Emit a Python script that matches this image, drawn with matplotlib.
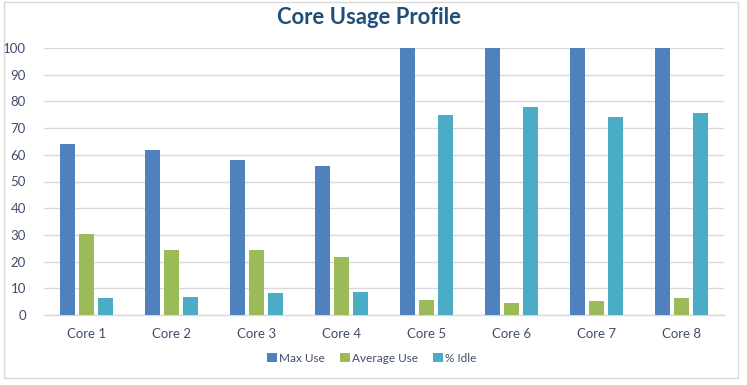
import matplotlib.pyplot as plt
import numpy as np
from matplotlib.patches import Rectangle

cores = ["Core 1", "Core 2", "Core 3", "Core 4", "Core 5", "Core 6", "Core 7", "Core 8"]
max_use = [64.1, 61.9, 58.1, 55.9, 100, 100, 100, 100]
avg_use = [30.4, 24.4, 24.4, 21.7, 5.6, 4.5, 5.25, 6.4]
idle = [6.4, 6.75, 8.25, 8.6, 75.0, 78.0, 74.25, 75.75]

series = [
    ("Max Use", max_use, "#4F81BD"),
    ("Average Use", avg_use, "#9BBB59"),
    ("% Idle", idle, "#4BACC6"),
]

plt.rcParams["font.family"] = ["Lato", "DejaVu Sans"]

fig = plt.figure(figsize=(7.47, 3.85), dpi=100)
ax = fig.add_axes([44 / 747, 1 - 315 / 385, 680 / 747, 267 / 385])

x = np.arange(len(cores))
width = 15 / 85
step = 19 / 85
for i, (name, vals, col) in enumerate(series):
    ax.bar(x + (i - 1) * step, vals, width=width, color=col, label=name, zorder=3)

ax.set_xlim(-0.5, len(cores) - 0.5)
ax.set_ylim(0, 100)
ax.set_yticks(range(0, 101, 10))
ax.set_xticks(x)
ax.set_xticklabels(cores)
ax.grid(axis="y", color="#D9D9D9", linewidth=1, zorder=0)
for s in ["top", "right", "left"]:
    ax.spines[s].set_visible(False)
ax.spines["bottom"].set_color("#D9D9D9")
ax.spines["bottom"].set_linewidth(1)
ax.tick_params(axis="both", length=0, labelsize=9.5, labelcolor="#404E6B")
ax.tick_params(axis="x", pad=9)
ax.tick_params(axis="y", pad=13)

fig.text(369 / 747, 1 - 18 / 385, "Core Usage Profile", ha="center", va="center",
         fontsize=15.8, fontweight="bold", color="#1F4E79")

leg = fig.legend(loc="center", bbox_to_anchor=(372 / 747, 1 - 358 / 385), ncol=3,
                 frameon=False, fontsize=8.5, handlelength=0.8, handleheight=0.8,
                 handletextpad=0.2, columnspacing=1.3)
for t in leg.get_texts():
    t.set_color("#404E6B")

fig.patches.append(Rectangle((4 / 747, 1 - 378 / 385), 734 / 747, 376 / 385,
                             transform=fig.transFigure, fill=False,
                             edgecolor="#D9D9D9", linewidth=1))

fig.savefig("out.png", dpi=100)
